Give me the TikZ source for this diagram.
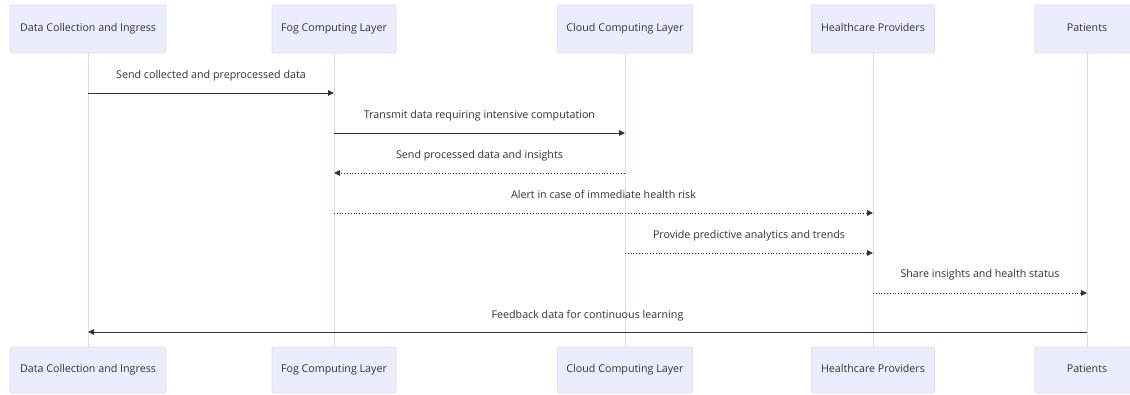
\documentclass[tikz,border=0pt]{standalone}
\usepackage{fontspec}
\setmainfont{Open Sans}
\usetikzlibrary{arrows.meta}
\definecolor{boxfill}{HTML}{ECECFF}
\definecolor{boxline}{HTML}{DCDCF4}
\definecolor{lifeline}{HTML}{DCD8F0}
\definecolor{txt}{HTML}{333333}
\begin{document}
\begin{tikzpicture}[x=1pt,y=-1pt,
  actor/.style={draw=boxline,fill=boxfill,line width=0.8pt,rounded corners=1.5pt,minimum height=48pt,inner sep=0pt,text=txt,font=\fontsize{10.7}{12}\selectfont,text height=8pt,text depth=2.6pt},
  life/.style={draw=lifeline,line width=1pt},
  msg/.style={draw=txt,line width=1pt,-{Triangle[length=6pt,width=5.5pt]}},
  reply/.style={msg,line width=1pt,dash pattern=on 1pt off 1.8pt},
  lbl/.style={text=txt,font=\fontsize{10.7}{12}\selectfont,inner sep=0pt,text height=8pt,text depth=2.6pt}]
\useasboundingbox (0,0) rectangle (1130,394);
\fill[white] (0,0) rectangle (1130,394);
% lifelines
\draw[life] (88,53) -- (88,347);
\draw[life] (334,53) -- (334,347);
\draw[life] (625,53) -- (625,347);
\draw[life] (873,53) -- (873,347);
\draw[life] (1087,53) -- (1087,347);
% top actors
\node[actor,minimum width=156pt] (ta) at (88,29) {Data Collection and Ingress};
\node[actor,minimum width=124pt] (tb) at (334,29) {Fog Computing Layer};
\node[actor,minimum width=135pt] (tc) at (625,29) {Cloud Computing Layer};
\node[actor,minimum width=123pt] (td) at (873,29) {Healthcare Providers};
\node[actor,minimum width=104pt] (te) at (1087,29) {Patients};
% bottom actors
\node[actor,minimum width=156pt,minimum height=46pt] (ba) at (88,370) {Data Collection and Ingress};
\node[actor,minimum width=124pt,minimum height=46pt] (bb) at (334,370) {Fog Computing Layer};
\node[actor,minimum width=135pt,minimum height=46pt] (bc) at (625,370) {Cloud Computing Layer};
\node[actor,minimum width=123pt,minimum height=46pt] (bd) at (873,370) {Healthcare Providers};
\node[actor,minimum width=104pt,minimum height=46pt] (be) at (1087,370) {Patients};
% message rows
\foreach \i/\y in {1/93,2/133,3/173,4/213,5/253,6/293,7/332}{
  \coordinate (y\i) at (0,\y);
}
\draw[msg] (ta |- y1) -- (tb |- y1) node[lbl,midway,yshift=17pt] (l1) {Send collected and preprocessed data};
\draw[msg] (tb |- y2) -- (tc |- y2) node[lbl,midway,yshift=17pt] (l2) {Transmit data requiring intensive computation};
\draw[reply] (tc |- y3) -- (tb |- y3) node[lbl,midway,yshift=17pt] (l3) {Send processed data and insights};
\draw[reply] (tb |- y4) -- (td |- y4) node[lbl,midway,yshift=17pt] (l4) {Alert in case of immediate health risk};
\draw[reply] (tc |- y5) -- (td |- y5) node[lbl,midway,yshift=17pt] (l5) {Provide predictive analytics and trends};
\draw[reply] (td |- y6) -- (te |- y6) node[lbl,midway,yshift=18pt] (l6) {Share insights and health status};
\draw[msg] (te |- y7) -- (ta |- y7) node[lbl,midway,yshift=16pt] (l7) {Feedback data for continuous learning};
\end{tikzpicture}
\end{document}
